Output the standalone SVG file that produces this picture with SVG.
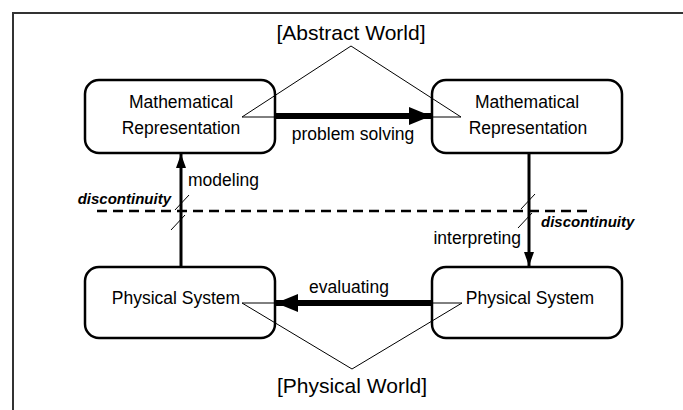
<svg xmlns="http://www.w3.org/2000/svg" width="683" height="410" viewBox="0 0 683 410">
<style>
.box{fill:#fff;stroke:#000;stroke-width:2.5}
.t{font-family:"Liberation Sans",Arial,sans-serif;font-size:17.5px;fill:#000}
.w{font-family:"Liberation Sans",Arial,sans-serif;font-size:21px;fill:#000}
.d{font-family:"Liberation Sans",Arial,sans-serif;font-size:15px;font-weight:bold;font-style:italic;fill:#000}
.thin{fill:none;stroke:#000;stroke-width:1}
.thick{fill:none;stroke:#000;stroke-width:6}
.med{fill:none;stroke:#000;stroke-width:3}
</style>
<defs>
<marker id="bigHead" markerUnits="userSpaceOnUse" markerWidth="22" markerHeight="20" refX="22" refY="10" orient="auto">
<path d="M0,1 L22,10 L0,19 Z" fill="#000"/>
</marker>
<marker id="smallHead" markerUnits="userSpaceOnUse" markerWidth="14" markerHeight="10" refX="14" refY="5" orient="auto">
<path d="M0,0 L14,5 L0,10 Z" fill="#000"/>
</marker>
</defs>
<rect x="0" y="0" width="683" height="410" fill="#fff"/>
<rect x="13" y="13" width="700" height="420" fill="none" stroke="#333" stroke-width="2"/>

<g id="mathLeft">
<rect class="box" x="85" y="80" width="190" height="73" rx="14"/>
<text class="t" x="181" y="108" text-anchor="middle">Mathematical</text>
<text class="t" x="181" y="134" text-anchor="middle">Representation</text>
</g>
<g id="mathRight">
<rect class="box" x="432" y="80" width="190" height="73" rx="14"/>
<text class="t" x="527" y="108" text-anchor="middle">Mathematical</text>
<text class="t" x="528" y="134" text-anchor="middle">Representation</text>
</g>
<g id="physLeft">
<rect class="box" x="85" y="267" width="190" height="71" rx="14"/>
<text class="t" x="176" y="304" text-anchor="middle">Physical System</text>
</g>
<g id="physRight">
<rect class="box" x="432" y="267" width="190" height="71" rx="14"/>
<text class="t" x="530" y="304" text-anchor="middle">Physical System</text>
</g>

<g id="abstractWorld">
<text class="w" x="351" y="40" text-anchor="middle">[Abstract World]</text>
<polyline class="thin" points="275,117 242,117 351,46 461,117 432,117"/>
</g>
<g id="physicalWorld">
<text class="w" x="352" y="393" text-anchor="middle">[Physical World]</text>
<polyline class="thin" points="275,303 242,303 352,369 462,303 432,303"/>
</g>

<g id="connectors">
<line class="thick" x1="275" y1="116" x2="431" y2="116" marker-end="url(#bigHead)"/>
<text class="t" x="353" y="140" text-anchor="middle">problem solving</text>
<line class="thick" x1="432" y1="303" x2="276" y2="303" marker-end="url(#bigHead)"/>
<text class="t" x="349" y="293" text-anchor="middle">evaluating</text>
<line class="med" x1="181" y1="266" x2="181" y2="154" marker-end="url(#smallHead)"/>
<text class="t" x="188" y="186">modeling</text>
<line class="med" x1="529" y1="153" x2="529" y2="266" marker-end="url(#smallHead)"/>
<text class="t" x="521" y="244" text-anchor="end">interpreting</text>
<line x1="97" y1="211" x2="593" y2="211" stroke="#000" stroke-width="2.5" stroke-dasharray="10,6"/>
<text class="d" x="171" y="204" text-anchor="end">discontinuity</text>
<text class="d" x="541" y="227">discontinuity</text>
<line class="thin" x1="175" y1="210" x2="189" y2="195"/>
<line class="thin" x1="171" y1="230" x2="185" y2="215"/>
<line class="thin" x1="521" y1="209" x2="535" y2="194"/>
<line class="thin" x1="518" y1="228" x2="532" y2="213"/>
</g>
</svg>
